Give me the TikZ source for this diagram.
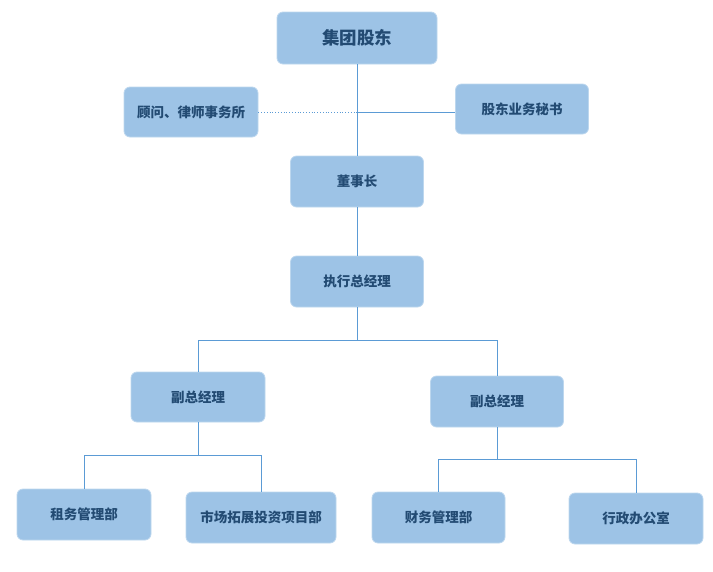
\documentclass[tikz,border=0pt]{standalone}
\usepackage{fontspec}
\newfontfamily\cjk{Noto Sans CJK SC}
\usetikzlibrary{positioning}

\definecolor{boxblue}{HTML}{9DC3E6}
\definecolor{boxedge}{HTML}{BDD7EE}
\definecolor{textnavy}{HTML}{234B73}
\definecolor{linkblue}{HTML}{5B9BD5}

\begin{document}
\begin{tikzpicture}[
      x=1pt, y=1pt,
      unit/.style={draw=boxedge, line width=0.8pt, fill=boxblue, rounded corners=6pt,
        minimum width=133pt, minimum height=51pt, inner sep=0pt,
        text=textnavy, font=\cjk\bfseries\fontsize{13.5}{15}\selectfont},
      head/.style={unit, minimum width=160pt, minimum height=52pt,
        font=\cjk\bfseries\fontsize{17.5}{20}\selectfont},
      link/.style={draw=linkblue, line width=0.8pt}
    ]
    \useasboundingbox (0,0) rectangle (713,-571);
    % top levels
    \node[head] (owner) at (357,-38) {集团股东};
    \node[unit, minimum width=134pt, minimum height=50pt] (advisor) at (191,-112) {顾问、律师事务所};
    \node[unit, minimum height=50pt] (secretary) at (522,-109) {股东业务秘书};
    \node[unit] (chair) at (357,-181.5) {董事长};
    \node[unit] (exec) at (357,-281.5) {执行总经理};
    % vice managers
    \node[unit, minimum width=134pt, minimum height=50pt] (vpleft) at (198,-397) {副总经理};
    \node[unit] (vpright) at (497,-401.5) {副总经理};
    % departments
    \node[unit, minimum width=134pt] (lease) at (84,-514.5) {租务管理部};
    \node[unit, minimum width=150pt] (market) at (261,-517.5) {市场拓展投资项目部};
    \node[unit] (finance) at (438.5,-517.5) {财务管理部};
    \node[unit, minimum width=134pt] (office) at (636,-518.5) {行政办公室};

    \draw[link] (owner.south) -- (chair.north);
    \draw[link, dotted] (advisor.east) -- (advisor.east -| owner.south);
    \draw[link] (advisor.east -| owner.south) -- (secretary.west |- advisor.east);
    \draw[link] (chair.south) -- (exec.north);
    \draw[link] (exec.south) -- ++(0,-33) -| (vpleft.north);
    \draw[link] (exec.south) -- ++(0,-33) -| (vpright.north);
    \draw[link] (vpleft.south) -- ++(0,-33) -| (lease.north);
    \draw[link] (vpleft.south) -- ++(0,-33) -| (market.north);
    \draw[link] (vpright.south) -- ++(0,-32) -| (finance.north);
    \draw[link] (vpright.south) -- ++(0,-32) -| (office.north);
  \end{tikzpicture}
\end{document}
